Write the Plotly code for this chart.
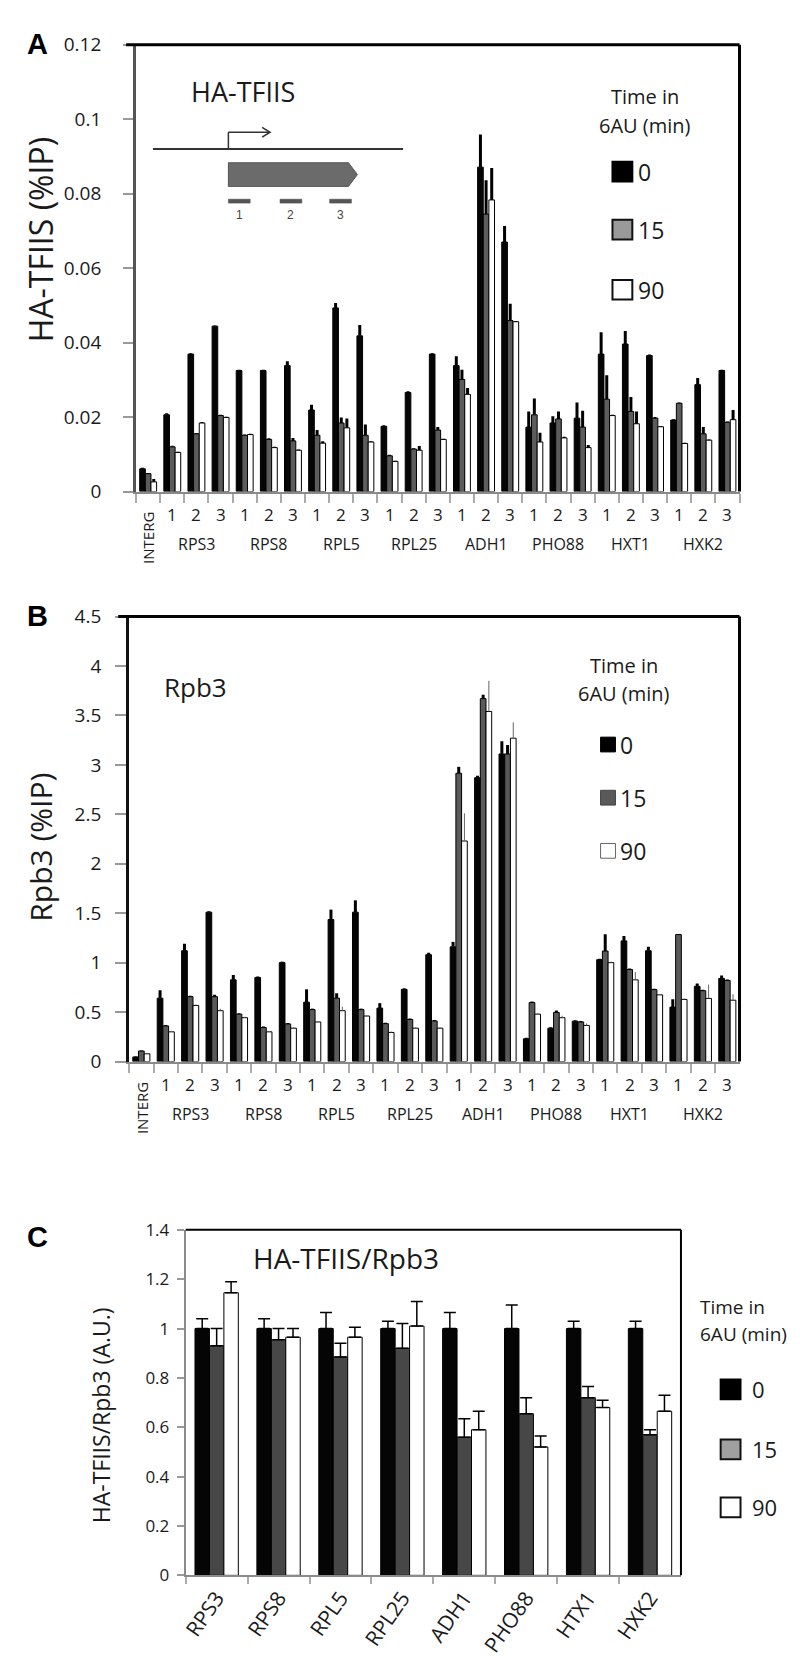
import plotly.graph_objects as go

W, H = 800, 1666
def X(px): return px / W
def Y(py): return 1 - py / H

FONT = "Open Sans"
TXT = "#1a1a1a"

genes = ["RPS3", "RPS8", "RPL5", "RPL25", "ADH1", "PHO88", "HXT1", "HXK2"]
amplicons = ["1", "2", "3"]
sites = ["INTERG"] + [f"{g} {a}" for g in genes for a in amplicons]
times = ["0", "15", "90"]

# ---------------- Panel A: HA-TFIIS (%IP) ----------------
a_t0 = [0.0061, 0.0206, 0.0369, 0.0444, 0.0325, 0.0325, 0.0338, 0.0219, 0.0493, 0.0418,
        0.0175, 0.0266, 0.0369, 0.0338, 0.0871, 0.0670, 0.0173, 0.0184, 0.0197, 0.0369,
        0.0396, 0.0365, 0.0192, 0.0287, 0.0325]
a_e0 = [0.0003, 0.0004, 0.0002, 0.0002, 0.0002, 0.0002, 0.0012, 0.0014, 0.0013, 0.0029,
        0.0003, 0.0003, 0.0002, 0.0025, 0.0088, 0.0043, 0.0042, 0.0018, 0.0042, 0.0059,
        0.0035, 0.0003, 0.0002, 0.0018, 0.0002]
a_t15 = [0.0048, 0.0120, 0.0155, 0.0204, 0.0151, 0.0140, 0.0136, 0.0151, 0.0184, 0.0151,
         0.0096, 0.0114, 0.0165, 0.0301, 0.0745, 0.0459, 0.0206, 0.0195, 0.0173, 0.0248,
         0.0215, 0.0197, 0.0237, 0.0155, 0.0186]
a_e15 = [0.0002, 0.0003, 0.0002, 0.0002, 0.0002, 0.0003, 0.0008, 0.0014, 0.0015, 0.0029,
         0.0003, 0.0002, 0.0008, 0.0026, 0.0091, 0.0045, 0.0044, 0.0020, 0.0044, 0.0064,
         0.0039, 0.0003, 0.0002, 0.0018, 0.0002]
a_t90 = [0.0026, 0.0105, 0.0184, 0.0199, 0.0153, 0.0118, 0.0111, 0.0130, 0.0171, 0.0133,
         0.0081, 0.0111, 0.0140, 0.0261, 0.0783, 0.0456, 0.0133, 0.0144, 0.0118, 0.0204,
         0.0182, 0.0174, 0.0129, 0.0138, 0.0193]
a_e90 = [0.0008, 0.0002, 0.0003, 0.0002, 0.0002, 0.0002, 0.0002, 0.0005, 0.0025, 0.0002,
         0.0002, 0.0011, 0.0002, 0.0017, 0.0086, 0.0002, 0.0025, 0.0003, 0.0007, 0.0002,
         0.0033, 0.0002, 0.0002, 0.0002, 0.0026]

# ---------------- Panel B: Rpb3 (%IP) ----------------
b_t0 = [0.046, 0.64, 1.12, 1.51, 0.826, 0.85, 1.00, 0.60, 1.436, 1.51, 0.54, 0.73, 1.08,
        1.16, 2.87, 3.11, 0.23, 0.337, 0.408, 1.03, 1.22, 1.12, 0.55, 0.76, 0.84]
b_e0 = [0.005, 0.08, 0.07, 0.01, 0.05, 0.01, 0.01, 0.13, 0.10, 0.12, 0.05, 0.01, 0.02,
        0.05, 0.02, 0.13, 0.01, 0.01, 0.01, 0.01, 0.05, 0.04, 0.08, 0.03, 0.03]
b_t15 = [0.106, 0.36, 0.656, 0.656, 0.479, 0.344, 0.38, 0.525, 0.64, 0.525, 0.383, 0.425, 0.41,
         2.915, 3.67, 3.11, 0.596, 0.496, 0.40, 1.117, 0.93, 0.727, 1.284, 0.716, 0.82]
b_e15 = [0.005, 0.01, 0.01, 0.02, 0.01, 0.01, 0.01, 0.01, 0.05, 0.01, 0.01, 0.01, 0.01,
         0.065, 0.04, 0.09, 0.01, 0.02, 0.01, 0.17, 0.01, 0.01, 0.0, 0.01, 0.01]
b_t90 = [0.078, 0.30, 0.567, 0.514, 0.443, 0.30, 0.337, 0.40, 0.514, 0.46, 0.294, 0.337, 0.337,
         2.23, 3.54, 3.27, 0.479, 0.443, 0.365, 1.00, 0.826, 0.674, 0.628, 0.638, 0.62]
b_e90 = [0.005, 0.01, 0.01, 0.02, 0.01, 0.01, 0.01, 0.01, 0.04, 0.01, 0.01, 0.01, 0.01,
         0.28, 0.31, 0.16, 0.01, 0.02, 0.02, 0.01, 0.08, 0.01, 0.01, 0.14, 0.06]

# ---------------- Panel C: HA-TFIIS/Rpb3 ----------------
c_genes = ["RPS3", "RPS8", "RPL5", "RPL25", "ADH1", "PHO88", "HTX1", "HXK2"]
c_t0 = [1.0, 1.0, 1.0, 1.0, 1.0, 1.0, 1.0, 1.0]
c_e0 = [0.04, 0.04, 0.065, 0.03, 0.065, 0.095, 0.03, 0.03]
c_t15 = [0.93, 0.955, 0.885, 0.92, 0.56, 0.655, 0.72, 0.57]
c_e15 = [0.07, 0.045, 0.055, 0.10, 0.075, 0.065, 0.045, 0.02]
c_t90 = [1.145, 0.965, 0.965, 1.01, 0.59, 0.52, 0.68, 0.665]
c_e90 = [0.045, 0.035, 0.04, 0.10, 0.075, 0.045, 0.03, 0.065]

fig = go.Figure()

def add_bars(xa, ya, cats, series, colors, err_styles):
    for name, (vals, errs), col, es in zip(times, series, colors, err_styles):
        fig.add_trace(go.Bar(
            x=cats, y=vals, name=name, xaxis=xa, yaxis=ya, showlegend=False,
            marker=dict(color=col, line=dict(color="black", width=1)),
            error_y=dict(type="data", symmetric=False, array=errs,
                         arrayminus=[0] * len(errs), **es)))

thick = dict(thickness=3, width=0, color="black")
add_bars("x", "y", sites, [(a_t0, a_e0), (a_t15, a_e15), (a_t90, a_e90)],
         ["#050505", "#5c5c5c", "#ffffff"], [thick, thick, thick])
add_bars("x2", "y2", sites, [(b_t0, b_e0), (b_t15, b_e15), (b_t90, b_e90)],
         ["#050505", "#5a5a5a", "#ffffff"],
         [thick, thick, dict(thickness=1, width=0, color="#666666")])
capped = dict(thickness=1.5, width=6, color="black")
add_bars("x3", "y3", c_genes, [(c_t0, c_e0), (c_t15, c_e15), (c_t90, c_e90)],
         ["#050505", "#474747", "#ffffff"], [capped, capped, capped])

# panel pixel boxes: (left, right, top, bottom)
PA = (123, 731, 24, 478)
PB = (116, 731, 605, 1057)
PC = (173, 672, 1228, 1579)

def xax(box, **kw):
    d = dict(domain=[X(box[0]), X(box[1])], type="category", showgrid=False,
             zeroline=False, showline=True, linecolor="#8a8a8a", linewidth=2,
             ticks="outside", tickson="boundaries", ticklen=9, tickcolor="#aaaaaa",
             tickwidth=1.5, fixedrange=True)
    d.update(kw)
    return d

def yax(box, rng, dt, **kw):
    d = dict(domain=[Y(box[3]), Y(box[2])], range=rng, dtick=dt, showgrid=False,
             zeroline=False, showline=True, ticks="outside", tickcolor="#999999",
             tickwidth=1.5, fixedrange=True, tickfont=dict(family=FONT, size=19, color=TXT))
    d.update(kw)
    return d

fig.update_layout(
    width=W, height=H, margin=dict(l=0, r=0, t=0, b=0),
    paper_bgcolor="white", plot_bgcolor="white",
    barmode="group", bargap=0.3, bargroupgap=0,
    font=dict(family=FONT, color=TXT),
    xaxis=xax(PA, anchor="y", showticklabels=False),
    yaxis=yax(PA, [0, 0.12], 0.02, anchor="x", linecolor="#555555", linewidth=3,
              ticklen=10, ticklabelstandoff=18),
    xaxis2=xax(PB, anchor="y2", showticklabels=False),
    yaxis2=yax(PB, [0, 4.5], 0.5, anchor="x2", linecolor="#111111", linewidth=3,
               ticklen=11, ticklabelstandoff=10),
    xaxis3=xax(PC, anchor="y3", showticklabels=True, tickangle=-55, ticklen=7,
               tickfont=dict(family=FONT, size=21, color=TXT)),
    yaxis3=yax(PC, [0, 1.4], 0.2, anchor="x3", linecolor="#8a8a8a", linewidth=2,
               ticklen=7, ticklabelstandoff=4,
               tickfont=dict(family=FONT, size=17, color=TXT)),
)

shapes = []
annos = []

def line(x0, y0, x1, y1, color="black", width=3):
    shapes.append(dict(type="line", xref="paper", yref="paper", x0=X(x0), y0=Y(y0),
                       x1=X(x1), y1=Y(y1), line=dict(color=color, width=width)))

def rect(x0, y0, x1, y1, fill, lc="black", lw=1):
    shapes.append(dict(type="rect", xref="paper", yref="paper", x0=X(x0), y0=Y(y0),
                       x1=X(x1), y1=Y(y1), fillcolor=fill, line=dict(color=lc, width=lw)))

def text(x, y, s, size, xanchor="center", angle=0, family=FONT, color=TXT):
    annos.append(dict(xref="paper", yref="paper", x=X(x), y=Y(y), text=s, showarrow=False,
                      xanchor=xanchor, yanchor="middle", textangle=angle, borderpad=0,
                      font=dict(family=family, size=size, color=color)))

def P(px, py):
    return f"{X(px):.5f},{Y(py):.5f}"

# frames (top + right)
for box, lw, ext in [(PA, 3, 10), (PB, 3, 11), (PC, 2, 0)]:
    line(box[0] - ext, box[2], box[1], box[2], width=lw)
    line(box[1], box[2], box[1], box[3], width=lw)

# panel letters
for ltr, (lx, ly) in zip(["A", "B", "C"], [(24, 23), (24, 604), (24, 1235)]):
    text(lx, ly, f"<b>{ltr}</b>", 29, family="Liberation Sans", color="black")

# y-axis titles
text(27, 222, "HA-TFIIS (%IP)", 32, angle=-90)
text(27, 839, "Rpb3 (%IP)", 30, angle=-90)
text(88, 1416, "HA-TFIIS/Rpb3 (A.U.)", 23, angle=-90)

# in-plot titles
text(231, 72, "HA-TFIIS", 27)
text(183, 677, "Rpb3", 26)
text(335, 1257, "HA-TFIIS/Rpb3", 28)

# x labels for A and B
for box in (PA, PB):
    base = box[3]
    n = len(sites)
    cw = (box[1] - box[0]) / n
    for i, s in enumerate(sites):
        cx = box[0] + cw * (i + 0.5)
        if s == "INTERG":
            text(cx, base + 47, "INTERG", 15, angle=-90)
        else:
            text(cx, base + 23, s.split(" ")[1], 17)
    for gi, g in enumerate(genes):
        cx = box[0] + cw * (1 + gi * 3 + 1 + 0.5)
        text(cx, base + 53, g, 16)

# legends
def legend(hdr_x, hdr_y1, hdr_y2, sq_x0, sq, ys, fills, lcs, lw, num_x, hsize, nsize, hanchor="center"):
    text(hdr_x, hdr_y1, "Time in", hsize, xanchor=hanchor)
    text(hdr_x, hdr_y2, "6AU (min)", hsize, xanchor=hanchor)
    for t, yc, f, lc in zip(times, ys, fills, lcs):
        rect(sq_x0, yc - sq / 2, sq_x0 + sq, yc + sq / 2, f, lc, lw)
        text(num_x, yc, t, nsize, xanchor="left")

legend(636, 77, 106, 603, 20, [153, 212, 273], ["#000000", "#9a9a9a", "#ffffff"],
       ["#000000", "#111111", "#111111"], 2, 628, 20, 23)
legend(615, 655, 683, 591, 15, [735, 789, 843], ["#000000", "#5a5a5a", "#ffffff"],
       ["#000000", "#444444", "#666666"], 1, 610, 20, 23)
legend(690, 1306, 1334, 712, 20, [1390, 1451, 1510], ["#000000", "#a0a0a0", "#ffffff"],
       ["#000000", "#111111", "#111111"], 2, 743, 19, 22, hanchor="left")

# gene diagram in panel A
line(140, 130, 392, 130, color="#333333", width=2)
line(216, 130, 216, 113, color="#333333", width=1.5)
line(216, 113, 257, 113, color="#333333", width=1.5)
shapes.append(dict(type="path", xref="paper", yref="paper",
                   path=f"M{P(250,108)} L{P(258,113)} L{P(250,118)}",
                   line=dict(color="#333333", width=1.5)))
shapes.append(dict(type="path", xref="paper", yref="paper",
                   path=f"M{P(216,144)} L{P(337,144)} L{P(346,156)} L{P(337,168)} L{P(216,168)} Z",
                   fillcolor="#6b6b6b", line=dict(color="#555555", width=1)))
for (d0, d1), lab in zip([(216, 238), (268, 290), (318, 340)], ["1", "2", "3"]):
    rect(d0, 181, d1, 185, "#555555", "#555555", 0.5)
    text((d0 + d1) / 2, 197, lab, 12, family="Liberation Sans", color="#444444")

fig.update_layout(shapes=shapes, annotations=annos)
fig.write_html("out.html")
